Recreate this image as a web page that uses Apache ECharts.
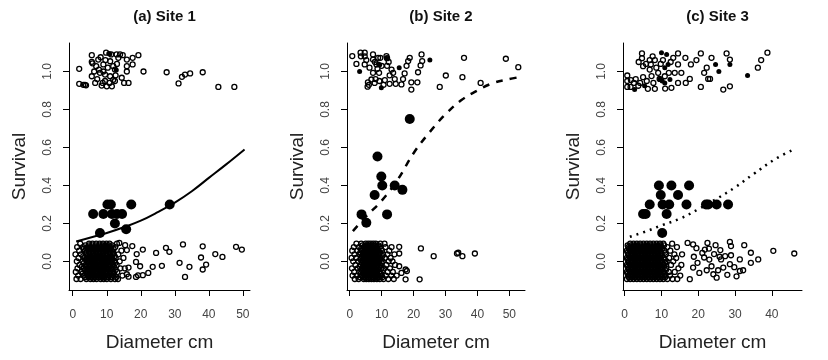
<!DOCTYPE html>
<html>
<head>
<meta charset="utf-8">
<script src="https://cdn.jsdelivr.net/npm/echarts@6/dist/echarts.min.js"></script>
<style>
html, body { margin: 0; background: #fff; }
#chart { width: 828px; height: 360px; }
</style>
</head>
<body>
<div id="chart"></div>
<script>
// panel titles and tick values
var titles = ['(a) Site 1', '(b) Site 2', '(c) Site 3'];
var xTicks50 = [0, 10, 20, 30, 40, 50];
var xTicks40 = [0, 10, 20, 30, 40];
var yTicks = [0, 0.2, 0.4, 0.6, 0.8, 1.0];

// ---- Site 1 ----
var site1High = [[1.9,1.014],[1.9,0.935],[3.1,0.93],[3.6,0.93],[3.9,0.927],[5.6,1.086],[5.6,1.051],[5.8,1.043],[5.6,0.975],[6.6,0.94],
  [6.9,1.028],[7.5,1.063],[8.0,0.993],[8.5,0.926],[9.0,1.037],[9.0,1.0],[9.5,0.984],[9.5,0.95],[9.8,1.099],[10.0,0.922],
  [11.0,1.054],[11.0,0.975],[11.5,0.922],[11.9,1.028],[11.9,0.956],[12.4,1.01],[12.4,0.95],[12.9,1.09],[13.4,1.072],[13.9,1.09],
  [14.4,0.967],[14.7,1.086],[15.1,0.94],[15.9,1.063],[15.9,1.028],[15.9,1.0],[16.4,0.94],[17.6,1.072],[17.6,1.037],[19.3,1.086],
  [20.8,1.0],[27.6,0.996],[31.1,0.937],[32.1,0.972],[33.0,0.984],[34.5,0.99],[38.2,0.996],[42.8,0.919],[47.5,0.919],
  [8.2,1.075],[7.2,0.96],[10.3,1.02],[10.8,0.94],[12.6,0.98],[8.8,0.94],[9.6,1.06],[11.3,1.09],[13.0,1.04],[6.3,1.0],[7.7,1.01]];
var site1Dark = [[10.6,1.095],[10.9,1.092],[12.8,1.008]];
var site1LowRows = [
  [-0.092, [1.1,2.3,4.0,5.2,6.1,7.0,8.2,9.1,10.0,11.2,12.4,13.3]],
  [-0.083, [3.6,4.6,5.5,6.5,7.5,8.4,9.4,10.4,11.4,12.8]],
  [-0.074, [1.6,3.2,4.5,5.6,6.6,7.5,8.6,9.5,10.6,11.7,14.6]],
  [-0.064, [2.9,4.2,5.1,6.1,7.1,8.0,9.0,10.0,11.0,12.1]],
  [-0.055, [0.9,2.6,3.9,4.9,5.9,6.9,7.9,8.9,9.8,10.9,12.0,13.1]],
  [-0.045, [3.5,4.5,5.5,6.4,7.4,8.4,9.4,10.4,11.5,12.6]],
  [-0.036, [1.4,3.3,4.4,5.4,6.4,7.4,8.3,9.3,10.3,11.4,14.0,15.3]],
  [-0.027, [2.7,3.9,5.0,6.0,7.0,7.9,8.9,9.9,10.9,12.1]],
  [-0.018, [2.0,3.8,4.9,5.9,6.8,7.8,8.8,9.7,10.7,11.8,12.9]],
  [-0.008, [3.3,4.5,5.5,6.4,7.4,8.4,9.3,10.3,11.4,12.5]],
  [0.001,  [1.2,2.9,4.2,5.2,6.2,7.2,8.1,9.1,10.1,11.1,12.3,13.8]],
  [0.010,  [3.8,4.9,5.8,6.8,7.8,8.8,9.8,10.7,11.7]],
  [0.019,  [1.7,3.5,4.6,5.6,6.6,7.6,8.5,9.5,10.5,11.6,12.6,14.9]],
  [0.028,  [3.1,4.3,5.3,6.3,7.2,8.2,9.1,10.1,11.2,12.3]],
  [0.038,  [0.8,2.4,4.0,5.0,6.0,7.0,8.0,8.9,9.9,10.9,11.9,13.4]],
  [0.047,  [3.9,4.9,5.9,6.9,7.9,8.8,9.8,10.8,11.9]],
  [0.057,  [1.9,3.6,4.7,5.7,6.7,7.7,8.7,9.6,10.6,11.5,14.3]],
  [0.066,  [3.2,4.4,5.4,6.4,7.3,8.3,9.2,10.2,11.1,12.0]],
  [0.076,  [1.3,3.0,4.3,5.3,6.3,7.3,8.4,9.3,10.3,11.3,12.5]],
  [0.085,  [3.7,4.8,5.8,6.8,7.8,8.7,9.6,10.6,11.6]],
  [0.094,  [2.2,4.8,5.8,6.9,7.9,8.9,9.9,10.8,13.0]]
];
var site1LowSparse = [[13.7,0.098],[15.4,0.086],[15.9,0.06],[17.5,0.081],[18.8,0.039],[20.6,0.063],[18.6,-0.002],[19.8,-0.025],
  [16.4,-0.032],[15.9,-0.067],[16.4,-0.08],[18.6,-0.081],[19.2,-0.073],[20.6,-0.072],[22.2,-0.06],[23.5,-0.028],[24.5,0.045],
  [26.2,-0.023],[27.4,0.072],[28.4,0.051],[31.4,-0.007],[32.4,0.09],[33.0,-0.081],[34.3,-0.028],[37.7,0.021],[38.2,-0.042],
  [38.2,0.08],[39.2,-0.016],[41.9,0.039],[44.0,0.024],[48.0,0.077],[49.7,0.063]];
var site1Means = [[6,0.25],[9,0.25],[10.2,0.3],[11.2,0.3],[11.5,0.25],[13,0.25],[14.5,0.25],[17.2,0.3],[12.4,0.2],[8,0.15],[15.7,0.17],[28.5,0.3]];
var site1Fit = [[1,0.105],[5,0.125],[10,0.15],[15,0.18],[20,0.215],[25,0.26],[30,0.31],[35,0.37],[40,0.44],[45,0.51],[50.5,0.59]];

// ---- Site 2 ----
var site2High = [[0.8,1.081],[2.1,1.04],[3.4,1.099],[3.5,1.08],[4.7,1.099],[4.7,1.08],[4.7,1.037],[5.7,0.943],[5.6,0.92],[6.8,0.958],
  [7.3,1.09],[7.3,1.063],[7.3,0.993],[7.8,0.94],[8.4,1.037],[8.7,1.014],[8.9,1.072],[9.2,0.993],[9.3,0.95],[9.6,1.072],
  [10.0,1.03],[11.5,1.081],[11.7,1.07],[11.7,1.03],[12.2,1.05],[13.1,1.01],[12.5,0.98],[13.6,0.993],[14.1,0.96],[12.5,0.935],
  [14.4,0.935],[16.2,0.932],[16.7,0.96],[17.2,0.99],[17.8,1.03],[18.3,1.055],[18.8,1.072],[19.3,0.943],[19.3,0.905],[21.2,0.943],
  [21.4,0.996],[22.2,1.032],[22.5,1.09],[22.7,1.055],[28.2,0.919],[30.1,0.979],[35.3,0.97],[35.8,1.072],[41.0,0.94],[48.9,1.067],
  [52.8,1.023],[6.2,1.02],[8.1,0.96],[10.6,0.93],[5.2,1.06],[6.0,0.93],[11.0,0.955],[7.9,1.05]];
var site2Dark = [[3.1,1.0],[9.9,0.914],[9.0,1.04],[9.4,1.035],[15.5,1.02],[25.1,1.06],[11.5,1.07]];
var site2LowRows = [
  [-0.092, [1.6,2.8,4.4,5.2,6.0,6.8,7.6,8.5,9.4,10.6,12.1,13.8]],
  [-0.083, [3.3,4.2,5.0,5.8,6.6,7.4,8.2,9.1,10.2]],
  [-0.074, [0.9,2.2,3.7,4.8,5.6,6.4,7.2,8.0,8.9,10.0,11.3,13.0,14.7]],
  [-0.064, [3.5,4.4,5.3,6.1,6.9,7.7,8.6,9.6]],
  [-0.055, [1.4,3.0,4.3,5.1,5.9,6.7,7.5,8.4,9.3,11.9,13.5]],
  [-0.045, [3.7,4.7,5.5,6.3,7.1,7.9,8.9,10.4]],
  [-0.036, [0.7,2.5,3.9,4.7,5.5,6.3,7.1,7.9,8.8,9.9,10.8,12.6]],
  [-0.027, [3.2,4.2,5.1,5.9,6.7,7.5,8.3,9.3]],
  [-0.018, [1.8,3.4,4.5,5.3,6.1,6.9,7.7,8.6,9.6,11.5,14.2]],
  [-0.008, [3.9,4.9,5.7,6.5,7.3,8.1,9.0,10.0]],
  [0.001,  [1.1,2.7,4.1,4.9,5.7,6.5,7.3,8.2,9.1,10.3,12.2,13.4]],
  [0.010,  [3.4,4.5,5.3,6.1,6.9,7.7,8.6,9.5]],
  [0.019,  [0.6,2.0,3.5,4.6,5.4,6.2,7.0,7.8,8.7,9.7,11.0,12.8]],
  [0.028,  [3.8,4.8,5.6,6.4,7.2,8.0,8.9,10.2]],
  [0.038,  [1.5,3.1,4.2,5.0,5.8,6.6,7.4,8.3,9.2,10.5,11.8,14.0]],
  [0.047,  [3.3,4.4,5.2,6.0,6.8,7.6,8.5,9.5]],
  [0.057,  [0.8,2.4,3.8,4.7,5.5,6.3,7.1,7.9,8.8,10.1,12.4]],
  [0.066,  [3.6,4.6,5.4,6.2,7.0,7.8,8.7,9.8]],
  [0.076,  [1.3,2.9,4.4,5.2,6.0,6.8,7.6,8.5,9.4,11.2,13.1]],
  [0.085,  [4.0,4.9,5.7,6.5,7.3,8.1,9.0]],
  [0.094,  [2.1,3.6,5.0,5.8,6.6,7.4,8.2,9.6,10.9]]
];
var site2LowSparse = [[22.3,0.069],[26.3,0.028],[33.6,0.042],[34.0,0.046],[35.3,0.028],[39.2,0.042],[17.5,-0.042],[17.9,-0.05],
  [17.5,-0.094],[21.9,-0.094],[15.5,0.077],[15.5,0.042],[15.5,-0.025],[16.2,-0.06]];
var site2Means = [[18.8,0.75],[8.7,0.553],[9.9,0.447],[10.2,0.4],[14.1,0.4],[16.5,0.377],[7.8,0.35],[3.7,0.248],[11.7,0.248],[5.2,0.204]];
var site2Fit = [[1,0.16],[5,0.235],[10,0.32],[15,0.43],[20,0.57],[25,0.68],[30,0.775],[35,0.85],[40,0.9],[45,0.94],[50,0.96],[53,0.97]];

// ---- Site 3 ----
var site3High = [[0.7,0.979],[0.7,0.95],[0.7,0.919],[1.6,0.919],[1.7,0.955],[3.7,0.925],[3.8,1.05],[4.7,1.095],[4.7,1.07],[5.0,1.028],
  [5.0,0.97],[6.3,0.909],[6.8,1.06],[7.1,1.037],[6.8,1.01],[7.3,0.976],[7.8,0.94],[8.2,0.909],[8.2,1.06],[8.6,1.02],
  [9.1,0.993],[9.5,0.961],[10.4,1.06],[10.9,0.975],[12.0,0.993],[12.7,0.914],[13.2,1.072],[13.6,0.993],[14.5,1.095],[14.5,1.037],
  [14.5,0.94],[15.4,0.993],[16.5,1.072],[16.6,0.94],[17.7,0.961],[18.0,1.037],[19.5,1.06],[20.7,1.095],[20.7,0.919],[21.6,0.993],
  [22.3,1.02],[22.7,0.961],[23.2,0.961],[23.6,1.072],[26.8,0.905],[27.7,1.095],[28.6,1.063],[28.6,0.922],[36.2,1.02],[37.1,1.06],
  [38.8,1.099],[2.5,0.94],[3.0,0.96],[4.2,0.94],[5.8,1.04],[6.0,0.95],[7.6,1.08],[9.8,1.04],[11.0,0.91],[12.5,1.05]];
var site3Dark = [[2.7,0.905],[5.4,0.925],[10.0,1.099],[10.9,1.02],[10.9,0.94],[11.4,1.09],[11.8,1.037],[12.3,0.958],[24.7,1.037],
  [25.6,1.0],[28.6,1.037],[33.4,0.979],[9.6,0.96],[10.2,0.95]];
var site3LowRows = [
  [-0.092, [0.6,1.5,2.4,3.3,4.2,5.1,6.0,6.9,7.8,8.7,9.6,10.5,11.6,13.0,14.3]],
  [-0.083, [1.1,2.0,2.9,3.8,4.7,5.6,6.5,7.4,8.3,9.2,10.1,11.0]],
  [-0.074, [1.0,1.9,2.8,3.7,4.6,5.5,6.4,7.3,8.2,9.1,10.0,11.1,12.3,15.1]],
  [-0.064, [0.8,1.7,2.6,3.5,4.4,5.3,6.2,7.1,8.0,8.9,9.8,10.8]],
  [-0.055, [0.6,1.5,2.4,3.3,4.2,5.1,6.0,6.9,7.8,8.7,9.6,10.6,12.0,13.6]],
  [-0.045, [1.1,2.0,2.9,3.8,4.7,5.6,6.5,7.4,8.3,9.2,10.1,11.2]],
  [-0.036, [1.0,1.9,2.8,3.7,4.6,5.5,6.4,7.3,8.2,9.1,10.0,11.3,14.6]],
  [-0.027, [0.8,1.7,2.6,3.5,4.4,5.3,6.2,7.1,8.0,8.9,9.8,10.7]],
  [-0.018, [0.6,1.5,2.4,3.3,4.2,5.1,6.0,6.9,7.8,8.7,9.6,10.7,12.6,15.4]],
  [-0.008, [1.1,2.0,2.9,3.8,4.7,5.6,6.5,7.4,8.3,9.2,10.1,11.0]],
  [0.001,  [1.0,1.9,2.8,3.7,4.6,5.5,6.4,7.3,8.2,9.1,10.0,11.4,13.2]],
  [0.010,  [0.8,1.7,2.6,3.5,4.4,5.3,6.2,7.1,8.0,8.9,9.8,10.9]],
  [0.019,  [0.6,1.5,2.4,3.3,4.2,5.1,6.0,6.9,7.8,8.7,9.6,10.6,12.1,14.0]],
  [0.028,  [1.1,2.0,2.9,3.8,4.7,5.6,6.5,7.4,8.3,9.2,10.1]],
  [0.038,  [1.0,1.9,2.8,3.7,4.6,5.5,6.4,7.3,8.2,9.1,10.0,11.2,13.5,15.6]],
  [0.047,  [0.8,1.7,2.6,3.5,4.4,5.3,6.2,7.1,8.0,8.9,9.8,11.0]],
  [0.057,  [0.6,1.5,2.4,3.3,4.2,5.1,6.0,6.9,7.8,8.7,9.6,10.8,12.4]],
  [0.066,  [1.1,2.0,2.9,3.8,4.7,5.6,6.5,7.4,8.3,9.2,10.1]],
  [0.076,  [1.0,1.9,2.8,3.7,4.6,5.5,6.4,7.3,8.2,9.1,10.0,11.6,14.2]],
  [0.085,  [0.8,1.7,2.6,3.5,4.4,5.3,6.2,7.1,8.0,8.9,9.8,10.7]],
  [0.094,  [1.5,2.4,3.3,4.2,5.1,6.0,6.9,7.8,8.7,9.6,10.5,12.9]]
];
var site3LowSparse = [[17.1,0.098],[18.6,0.09],[18.8,0.025],[19.8,-0.007],[17.7,-0.093],[18.6,-0.032],[21.6,0.021],[22.5,0.098],
  [22.9,0.068],[21.8,0.063],[21.1,0.045],[22.3,-0.046],[23.6,-0.025],[24.3,0.039],[24.7,0.086],[24.1,-0.067],[25.0,-0.085],
  [25.4,-0.046],[26.2,0.011],[26.8,-0.032],[27.3,0.028],[28.6,0.103],[28.9,0.081],[28.9,0.033],[28.6,-0.014],[30.4,-0.078],
  [31.3,-0.05],[32.2,-0.046],[32.5,0.086],[31.3,0.011],[34.3,0.046],[34.3,-0.007],[36.3,0.011],[40.4,0.056],[46.1,0.042],
  [19.5,0.07],[20.3,-0.06],[23.0,0.01],[26.0,0.06],[29.8,-0.03],[27.9,-0.07],[25.8,0.025]];
var site3Means = [[9.3,0.4],[12.7,0.4],[17.5,0.4],[9.8,0.35],[14.5,0.35],[6.8,0.3],[10.3,0.3],[12.1,0.3],[16.8,0.3],[22.1,0.3],
  [22.7,0.3],[25,0.3],[28.1,0.3],[5,0.25],[5.7,0.25],[11.4,0.25],[10.2,0.15]];
var site3Fit = [[1.4,0.13],[6,0.16],[10,0.19],[15,0.225],[20,0.275],[25,0.33],[30,0.39],[35,0.46],[41,0.54],[46,0.59]];

function rowsToPoints(rows) {
  var out = [];
  rows.forEach(function (r) {
    r[1].forEach(function (x) { out.push([x, r[0]]); });
  });
  return out;
}

var panels = [
  { high: site1High, dark: site1Dark, low: rowsToPoints(site1LowRows).concat(site1LowSparse), means: site1Means, fit: site1Fit,
    line: 'solid', left: 69, width: 181, xmin: -1.1, xmax: 52.1, ticks: xTicks50 },
  { high: site2High, dark: site2Dark, low: rowsToPoints(site2LowRows).concat(site2LowSparse), means: site2Means, fit: site2Fit,
    line: [7, 7], left: 347, width: 178, xmin: -0.85, xmax: 54.9, ticks: xTicks50 },
  { high: site3High, dark: site3Dark, low: rowsToPoints(site3LowRows).concat(site3LowSparse), means: site3Means, fit: site3Fit,
    line: [2, 5], left: 623, width: 179, xmin: -0.46, xmax: 48.2, ticks: xTicks40 }
];

var FONT = 'Liberation Sans, Arial, sans-serif';
var grids = [], xAxes = [], yAxes = [], series = [], titleList = [];

panels.forEach(function (p, i) {
  grids.push({ left: p.left, top: 43, width: p.width, height: 247 });
  titleList.push({
    text: titles[i], left: p.left + p.width / 2, top: 4, textAlign: 'center',
    textStyle: { fontFamily: FONT, fontSize: 15, fontWeight: 'bold', color: '#111' }
  });
  xAxes.push({
    type: 'value', gridIndex: i, min: p.xmin, max: p.xmax,
    name: 'Diameter cm', nameLocation: 'middle', nameGap: 43,
    nameTextStyle: { fontFamily: FONT, fontSize: 19, color: '#222' },
    axisLine: { onZero: false, lineStyle: { color: '#000', width: 1 } },
    axisTick: { customValues: p.ticks, length: 6, lineStyle: { color: '#000' } },
    axisLabel: { customValues: p.ticks, margin: 19, fontFamily: FONT, fontSize: 12, color: '#444' },
    splitLine: { show: false }
  });
  yAxes.push({
    type: 'value', gridIndex: i, min: -0.15, max: 1.15,
    name: 'Survival', nameLocation: 'middle', nameGap: 40, nameRotate: 90,
    nameTextStyle: { fontFamily: FONT, fontSize: 19, color: '#222' },
    axisLine: { onZero: false, lineStyle: { color: '#000', width: 1 } },
    axisTick: { customValues: yTicks, length: 6, lineStyle: { color: '#000' } },
    axisLabel: {
      customValues: yTicks, rotate: 90, margin: 15, fontFamily: FONT, fontSize: 12, color: '#444',
      formatter: function (v) { return Number(v).toFixed(1); }
    },
    splitLine: { show: false }
  });
  series.push({
    type: 'scatter', xAxisIndex: i, yAxisIndex: i, symbolSize: 5,
    itemStyle: { color: 'rgba(0,0,0,0)', borderColor: '#000', borderWidth: 1.3, opacity: 1 },
    data: p.high.concat(p.low), z: 2
  });
  series.push({
    type: 'scatter', xAxisIndex: i, yAxisIndex: i, symbolSize: 5,
    itemStyle: { color: '#000', opacity: 1 }, data: p.dark, z: 3
  });
  series.push({
    type: 'scatter', xAxisIndex: i, yAxisIndex: i, symbolSize: 10,
    itemStyle: { color: '#000', opacity: 1 }, data: p.means, z: 4
  });
  series.push({
    type: 'line', xAxisIndex: i, yAxisIndex: i, smooth: 0.4, showSymbol: false,
    lineStyle: { color: '#000', width: p.line === 'solid' ? 2 : 2.5, type: p.line },
    data: p.fit, z: 5
  });
});

var myChart = echarts.init(document.getElementById('chart'));
myChart.setOption({
  animation: false,
  backgroundColor: '#fff',
  title: titleList,
  grid: grids,
  xAxis: xAxes,
  yAxis: yAxes,
  series: series
});
</script>
</body>
</html>
